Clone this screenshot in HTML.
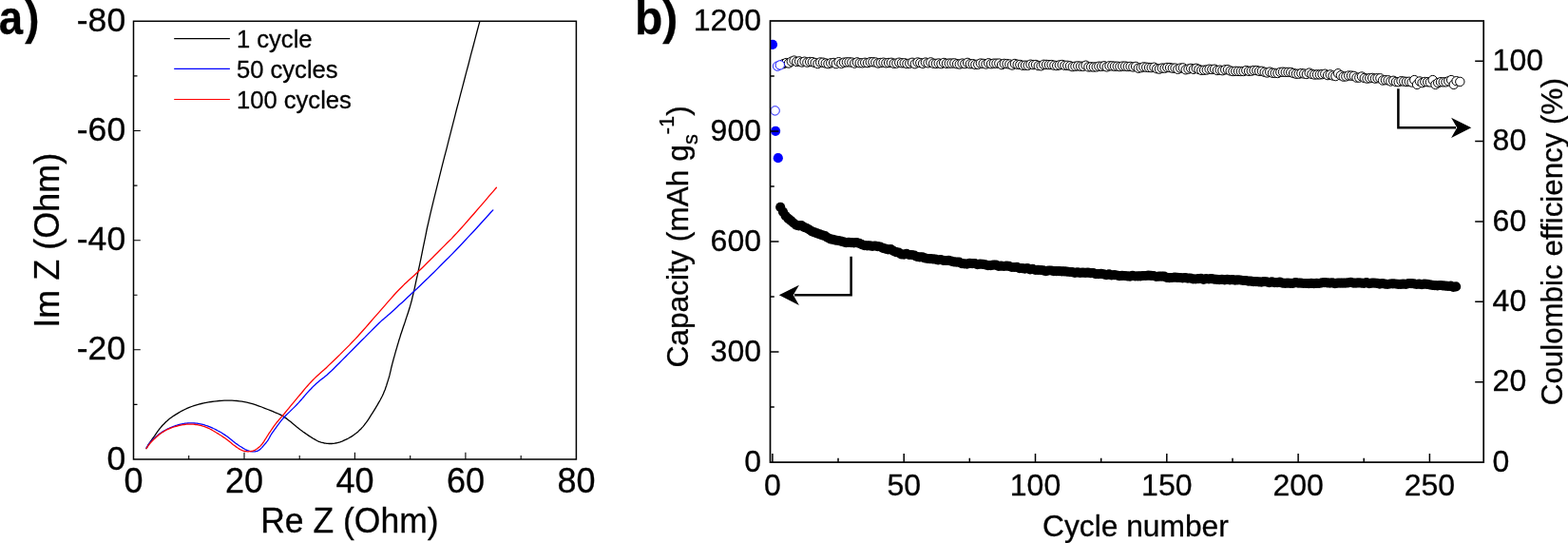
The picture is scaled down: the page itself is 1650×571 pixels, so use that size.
<!DOCTYPE html>
<html lang="en">
<head>
<meta charset="utf-8">
<title>Impedance spectra and cycling performance</title>
<style>
html,body{margin:0;padding:0;background:#fff;}
body{width:1650px;height:571px;overflow:hidden;}
svg{display:block;}
text{font-family:"Liberation Sans", sans-serif;fill:#000;stroke:#000;stroke-width:0.3px;}
.ta{font-size:36px;}
.tal{font-size:35.6px;}
.tb{font-size:32px;}
.lg{font-size:26px;}
.pl{font-size:50px;font-weight:bold;}
.fr{fill:none;stroke:#000;stroke-width:1.5;}
.tk{fill:none;stroke:#000;stroke-width:1.1;}
.tkb{fill:none;stroke:#000;stroke-width:1.5;}
.frb{fill:none;stroke:#000;stroke-width:1.7;}
.ll{fill:none;stroke-width:1.1;}
.cv{fill:none;stroke-width:1.3;stroke-linejoin:round;stroke-linecap:round;}
.oc{fill:#fff;stroke:#000;stroke-width:1;}
.ob{fill:#fff;stroke:#00f;stroke-width:0.9;}
.fc{fill:#000;}
.fb{fill:#00f;}
.ar{fill:none;stroke:#000;stroke-width:2.5;}
</style>
</head>
<body>
<svg width="1650" height="571" viewBox="0 0 1650 571">
<rect x="0" y="0" width="1650" height="571" fill="#fff"/>
<defs>
<clipPath id="ca"><rect x="140.5" y="22.3" width="465.9" height="460.7"/></clipPath>
<clipPath id="cb"><rect x="810.5" y="22.0" width="750.7" height="464.1"/></clipPath>
</defs>

<g id="panel-a">
<text class="pl" transform="translate(-1.2,36) scale(0.91,1)">a<tspan dx="2.4">)</tspan></text>
<g clip-path="url(#ca)">
<path class="cv" stroke="#000" d="M154.0,471.6 L154.2,471.3 L154.4,470.8 L154.6,470.3 L154.9,469.7 L155.3,469.1 L155.6,468.4 L156.1,467.7 L156.5,467.0 L157.0,466.3 L157.5,465.5 L158.0,464.8 L158.6,463.9 L159.2,463.1 L159.9,462.1 L160.6,461.1 L161.5,459.9 L162.5,458.6 L163.5,457.1 L164.7,455.4 L165.9,453.7 L167.1,452.0 L168.4,450.4 L169.7,448.8 L171.0,447.3 L172.3,446.0 L173.5,444.7 L174.7,443.5 L176.0,442.4 L177.3,441.2 L178.8,440.1 L180.3,439.0 L182.0,437.8 L183.8,436.6 L185.8,435.4 L187.9,434.1 L190.1,432.8 L192.3,431.6 L194.6,430.5 L196.9,429.4 L199.3,428.4 L201.7,427.5 L204.1,426.7 L206.7,425.9 L209.2,425.2 L211.8,424.5 L214.4,423.9 L217.1,423.4 L219.7,422.9 L222.4,422.5 L225.1,422.1 L227.8,421.8 L230.6,421.5 L233.3,421.3 L236.1,421.1 L238.8,421.1 L241.5,421.1 L244.1,421.2 L246.7,421.3 L249.3,421.5 L251.9,421.8 L254.5,422.1 L257.1,422.6 L259.8,423.1 L262.6,423.8 L265.6,424.6 L268.8,425.6 L272.0,426.8 L275.4,428.0 L278.6,429.3 L281.7,430.5 L284.6,431.7 L287.1,432.7 L289.2,433.6 L291.1,434.3 L292.7,435.0 L294.1,435.7 L295.5,436.4 L296.8,437.1 L298.3,438.0 L300.0,439.1 L301.9,440.4 L303.8,441.9 L305.9,443.5 L307.9,445.3 L310.0,447.0 L312.0,448.7 L314.0,450.3 L315.8,451.7 L317.6,453.0 L319.2,454.2 L320.9,455.4 L322.5,456.5 L324.1,457.6 L325.6,458.6 L327.0,459.5 L328.4,460.4 L329.7,461.2 L331.0,461.9 L332.2,462.6 L333.3,463.2 L334.4,463.8 L335.5,464.3 L336.6,464.7 L337.8,465.1 L339.0,465.4 L340.2,465.7 L341.4,466.0 L342.7,466.1 L343.9,466.3 L345.0,466.4 L346.2,466.5 L347.3,466.5 L348.3,466.5 L349.3,466.5 L350.3,466.4 L351.2,466.3 L352.2,466.2 L353.1,466.0 L354.0,465.8 L355.0,465.6 L356.0,465.4 L356.9,465.1 L357.9,464.8 L358.9,464.4 L359.9,464.1 L360.9,463.7 L361.9,463.2 L363.0,462.7 L364.1,462.2 L365.3,461.6 L366.5,461.0 L367.7,460.3 L368.9,459.6 L370.1,458.9 L371.3,458.1 L372.5,457.2 L373.7,456.3 L374.9,455.4 L376.1,454.4 L377.3,453.4 L378.4,452.3 L379.6,451.2 L380.8,449.9 L382.0,448.6 L383.2,447.2 L384.3,445.7 L385.5,444.2 L386.6,442.6 L387.8,440.8 L388.9,439.1 L390.1,437.2 L391.4,435.2 L392.7,433.1 L394.1,430.8 L395.6,428.4 L397.1,425.9 L398.5,423.4 L399.9,421.0 L401.2,418.5 L402.4,416.2 L403.4,414.0 L404.3,411.8 L405.2,409.7 L405.9,407.5 L406.7,405.4 L407.3,403.3 L408.0,401.1 L408.7,398.9 L409.4,396.6 L410.0,394.4 L410.5,392.1 L411.1,389.8 L411.6,387.4 L412.2,385.0 L412.8,382.6 L413.5,380.0 L414.2,377.3 L415.0,374.6 L415.8,371.7 L416.6,368.8 L417.5,365.9 L418.3,363.0 L419.2,360.1 L420.0,357.3 L420.9,354.6 L421.7,351.8 L422.6,349.2 L423.5,346.5 L424.4,343.8 L425.3,341.2 L426.2,338.6 L427.0,336.0 L427.8,333.6 L428.6,331.3 L429.3,329.2 L430.0,327.0 L430.7,324.7 L431.5,322.2 L432.3,319.3 L433.2,316.0 L434.1,312.2 L435.1,308.2 L436.1,303.8 L437.1,299.2 L438.1,294.4 L439.3,289.2 L440.4,283.9 L441.6,278.3 L442.8,272.6 L444.0,266.7 L445.2,260.6 L446.5,254.3 L447.9,247.6 L449.3,240.5 L451.0,233.1 L452.8,225.1 L454.9,216.4 L457.2,206.9 L459.7,196.8 L462.3,186.4 L464.9,175.9 L467.5,165.7 L470.1,155.8 L472.4,146.6 L474.6,138.1 L476.7,129.9 L478.7,122.1 L480.6,114.5 L482.6,107.1 L484.5,99.6 L486.5,92.2 L488.5,84.5 L490.6,76.3 L493.0,67.5 L495.3,58.4 L497.7,49.5 L499.9,41.1 L501.9,33.5 L503.6,27.1 L504.9,22.3"/>
<path class="cv" stroke="#00f" d="M154.0,471.2 L154.4,470.6 L154.9,469.9 L155.4,468.9 L156.1,467.9 L156.8,466.8 L157.6,465.7 L158.5,464.6 L159.4,463.6 L160.4,462.6 L161.6,461.5 L162.8,460.4 L164.1,459.3 L165.4,458.2 L166.7,457.1 L168.0,456.1 L169.3,455.2 L170.5,454.4 L171.8,453.6 L173.0,452.9 L174.2,452.2 L175.4,451.5 L176.7,450.9 L177.9,450.4 L179.1,449.8 L180.3,449.3 L181.5,448.8 L182.8,448.3 L184.0,447.9 L185.2,447.4 L186.4,447.1 L187.7,446.7 L188.9,446.4 L190.1,446.1 L191.3,445.8 L192.6,445.6 L193.8,445.4 L195.0,445.2 L196.3,445.1 L197.5,445.0 L198.7,444.9 L199.9,444.9 L201.1,444.8 L202.4,444.9 L203.6,444.9 L204.8,445.0 L206.0,445.1 L207.3,445.2 L208.5,445.4 L209.7,445.6 L210.9,445.8 L212.2,446.1 L213.4,446.4 L214.6,446.7 L215.8,447.1 L217.1,447.5 L218.3,447.9 L219.5,448.3 L220.8,448.8 L222.0,449.3 L223.2,449.9 L224.4,450.5 L225.7,451.0 L226.9,451.7 L228.1,452.3 L229.3,453.0 L230.5,453.6 L231.8,454.3 L233.0,455.0 L234.2,455.8 L235.4,456.6 L236.7,457.4 L237.9,458.2 L239.1,459.1 L240.4,460.1 L241.6,461.1 L242.9,462.1 L244.1,463.1 L245.3,464.1 L246.6,465.1 L247.8,466.0 L249.1,466.9 L250.4,467.8 L251.7,468.7 L253.0,469.5 L254.3,470.3 L255.5,471.1 L256.6,471.7 L257.6,472.3 L258.4,472.8 L259.2,473.1 L259.8,473.4 L260.4,473.7 L260.9,473.8 L261.4,474.0 L261.9,474.1 L262.5,474.3 L263.1,474.5 L263.7,474.6 L264.3,474.7 L264.9,474.8 L265.5,474.9 L266.1,474.9 L266.7,474.9 L267.3,474.9 L267.9,474.8 L268.6,474.8 L269.2,474.7 L269.8,474.6 L270.5,474.4 L271.1,474.1 L271.8,473.8 L272.5,473.4 L273.2,472.9 L274.0,472.2 L274.8,471.4 L275.6,470.6 L276.4,469.7 L277.1,468.9 L277.8,468.1 L278.5,467.3 L279.1,466.6 L279.6,466.0 L280.1,465.3 L280.6,464.7 L281.1,464.1 L281.5,463.5 L282.0,462.8 L282.5,462.0 L283.0,461.2 L283.4,460.5 L283.8,459.7 L284.2,458.9 L284.7,458.0 L285.3,457.0 L286.0,455.9 L286.9,454.6 L288.0,453.1 L289.2,451.4 L290.5,449.6 L291.9,447.6 L293.4,445.6 L294.9,443.6 L296.5,441.7 L298.1,439.8 L299.7,438.0 L301.4,436.3 L303.1,434.6 L304.9,432.9 L306.7,431.1 L308.5,429.4 L310.3,427.6 L312.1,425.8 L313.9,423.9 L315.7,421.8 L317.6,419.7 L319.5,417.5 L321.3,415.4 L323.0,413.4 L324.6,411.6 L326.1,410.0 L327.4,408.7 L328.5,407.5 L329.4,406.6 L330.3,405.8 L331.2,404.9 L332.1,404.1 L333.2,403.1 L334.5,402.0 L335.9,400.8 L337.3,399.6 L338.8,398.4 L340.5,397.2 L342.2,395.8 L344.1,394.2 L346.2,392.3 L348.5,390.2 L351.1,387.7 L354.0,384.8 L357.1,381.7 L360.4,378.4 L363.8,375.0 L367.1,371.6 L370.5,368.2 L373.7,365.0 L376.9,361.7 L380.3,358.3 L383.8,354.9 L387.2,351.4 L390.5,348.1 L393.6,345.0 L396.4,342.2 L398.9,339.8 L400.9,337.9 L402.4,336.5 L403.7,335.4 L404.7,334.6 L405.7,333.7 L406.9,332.8 L408.3,331.6 L410.1,330.0 L412.3,328.0 L414.8,325.7 L417.5,323.2 L420.3,320.6 L423.3,317.9 L426.2,315.2 L429.0,312.6 L431.8,310.0 L434.4,307.6 L436.9,305.3 L439.3,303.0 L441.7,300.7 L444.2,298.3 L446.8,295.8 L449.7,293.1 L452.8,290.0 L456.2,286.7 L459.8,283.1 L463.6,279.3 L467.6,275.3 L471.7,271.3 L475.8,267.1 L480.0,262.8 L484.1,258.5 L488.5,253.8 L493.3,248.6 L498.4,243.2 L503.4,237.7 L508.2,232.5 L512.5,227.8 L516.1,223.8 L518.8,220.9"/>
<path class="cv" stroke="#f00" d="M154.0,471.6 L154.4,471.1 L154.9,470.4 L155.4,469.5 L156.1,468.6 L156.8,467.6 L157.6,466.6 L158.5,465.5 L159.4,464.5 L160.4,463.5 L161.6,462.3 L162.8,461.2 L164.1,460.0 L165.4,458.8 L166.7,457.7 L168.0,456.6 L169.3,455.7 L170.5,454.8 L171.8,454.1 L173.0,453.3 L174.2,452.6 L175.4,452.0 L176.7,451.4 L177.9,450.8 L179.1,450.3 L180.3,449.8 L181.5,449.4 L182.8,449.0 L184.0,448.6 L185.2,448.3 L186.4,448.0 L187.7,447.7 L188.9,447.4 L190.1,447.1 L191.3,446.9 L192.6,446.7 L193.8,446.5 L195.0,446.4 L196.3,446.2 L197.5,446.2 L198.7,446.1 L199.9,446.1 L201.1,446.1 L202.4,446.2 L203.6,446.2 L204.8,446.4 L206.0,446.5 L207.3,446.7 L208.5,446.9 L209.7,447.1 L210.9,447.4 L212.2,447.7 L213.4,448.1 L214.6,448.4 L215.8,448.8 L217.1,449.3 L218.3,449.8 L219.5,450.3 L220.8,451.0 L222.0,451.6 L223.2,452.3 L224.4,453.0 L225.7,453.7 L226.9,454.5 L228.1,455.2 L229.3,455.9 L230.5,456.7 L231.8,457.5 L233.0,458.2 L234.2,459.1 L235.4,459.9 L236.7,460.7 L237.9,461.6 L239.2,462.5 L240.4,463.5 L241.7,464.6 L243.0,465.6 L244.3,466.7 L245.5,467.7 L246.7,468.6 L247.8,469.4 L248.8,470.1 L249.7,470.8 L250.6,471.3 L251.4,471.9 L252.2,472.3 L253.0,472.8 L253.8,473.1 L254.6,473.5 L255.4,473.8 L256.2,474.1 L257.0,474.3 L257.8,474.5 L258.6,474.6 L259.4,474.7 L260.2,474.8 L261.0,474.8 L261.8,474.8 L262.6,474.7 L263.4,474.6 L264.3,474.5 L265.1,474.3 L265.9,474.1 L266.6,473.9 L267.4,473.6 L268.1,473.3 L268.9,472.9 L269.6,472.5 L270.3,472.0 L271.0,471.6 L271.6,471.1 L272.3,470.5 L272.9,470.0 L273.5,469.5 L274.1,468.9 L274.6,468.3 L275.1,467.7 L275.7,467.0 L276.2,466.4 L276.7,465.7 L277.2,465.0 L277.7,464.3 L278.1,463.6 L278.5,462.9 L279.0,462.2 L279.4,461.5 L280.0,460.6 L280.6,459.6 L281.3,458.5 L282.2,457.2 L283.1,455.7 L284.2,454.2 L285.3,452.5 L286.4,450.8 L287.6,449.1 L288.8,447.4 L290.0,445.8 L291.1,444.3 L292.3,443.0 L293.4,441.6 L294.6,440.3 L295.8,438.9 L297.1,437.4 L298.5,435.8 L300.0,434.0 L301.7,431.9 L303.6,429.7 L305.6,427.2 L307.7,424.7 L309.8,422.1 L311.9,419.6 L313.9,417.2 L315.8,415.0 L317.5,413.0 L319.1,411.0 L320.6,409.2 L322.1,407.4 L323.6,405.7 L325.2,403.9 L327.0,402.0 L328.9,400.0 L331.0,397.9 L333.2,395.8 L335.5,393.7 L337.9,391.5 L340.5,389.3 L343.1,386.9 L345.7,384.4 L348.5,381.8 L351.4,379.0 L354.5,376.0 L357.7,372.9 L360.9,369.6 L364.2,366.4 L367.5,363.1 L370.6,359.8 L373.7,356.6 L376.6,353.5 L379.5,350.3 L382.2,347.2 L385.0,344.1 L387.7,341.0 L390.5,337.8 L393.2,334.6 L396.1,331.4 L399.0,328.1 L402.0,324.6 L405.1,321.1 L408.1,317.6 L411.2,314.1 L414.2,310.8 L417.1,307.5 L420.0,304.5 L422.8,301.7 L425.4,299.1 L428.0,296.7 L430.6,294.3 L433.2,292.0 L435.7,289.7 L438.3,287.3 L441.0,284.8 L443.7,282.2 L446.5,279.5 L449.2,276.8 L452.0,274.0 L454.8,271.3 L457.5,268.5 L460.3,265.7 L463.0,263.0 L465.6,260.4 L467.9,258.1 L470.2,255.8 L472.5,253.5 L475.0,251.1 L477.6,248.3 L480.6,245.1 L484.1,241.3 L488.3,236.6 L493.4,230.8 L498.9,224.5 L504.6,217.9 L510.1,211.6 L515.1,205.7 L519.3,200.8 L522.4,197.3"/>
</g>
<rect class="fr" x="140.5" y="22.3" width="465.9" height="460.7"/>
<path class="tk" d="M198.7,483.0 v-4 M140.5,425.4 h4 M257.0,483.0 v-7.3 M140.5,367.8 h7.3 M315.2,483.0 v-4 M140.5,310.2 h4 M373.4,483.0 v-7.3 M140.5,252.7 h7.3 M431.7,483.0 v-4 M140.5,195.1 h4 M489.9,483.0 v-7.3 M140.5,137.5 h7.3 M548.2,483.0 v-4 M140.5,79.9 h4 "/>
<text class="tal" text-anchor="end" x="132.2" y="493.6">0</text>
<text class="ta" text-anchor="middle" x="140.5" y="518.2">0</text>
<text class="tal" text-anchor="end" x="132.2" y="378.4">-20</text>
<text class="ta" text-anchor="middle" x="257.0" y="518.2">20</text>
<text class="tal" text-anchor="end" x="132.2" y="263.2">-40</text>
<text class="ta" text-anchor="middle" x="373.4" y="518.2">40</text>
<text class="tal" text-anchor="end" x="132.2" y="148.1">-60</text>
<text class="ta" text-anchor="middle" x="489.9" y="518.2">60</text>
<text class="tal" text-anchor="end" x="132.2" y="32.9">-80</text>
<text class="ta" text-anchor="middle" x="606.4" y="518.2">80</text>
<text class="ta" text-anchor="middle" transform="translate(367.9,560.3) scale(0.987,1)">Re Z (Ohm)</text>
<text class="ta" text-anchor="middle" transform="translate(62.3,252.7) rotate(-90)">Im Z (Ohm)</text>
<path class="ll" stroke="#000" d="M183.2,40.6 H241.9"/>
<text class="lg" transform="translate(248.9,49.9) scale(0.985,1)">1 cycle</text>
<path class="ll" stroke="#00f" d="M183.2,72.4 H241.9"/>
<text class="lg" transform="translate(248.9,81.8) scale(0.985,1)">50 cycles</text>
<path class="ll" stroke="#f00" d="M183.2,104.5 H241.9"/>
<text class="lg" transform="translate(248.9,114.0) scale(0.985,1)">100 cycles</text>
</g>
<g id="panel-b">
<text class="pl" transform="translate(668,36.3) scale(0.96,1)">b)</text>
<g clip-path="url(#cb)">
<g class="oc"><circle cx="824.5" cy="67.1" r="4.7"/><circle cx="827.3" cy="66.1" r="4.7"/><circle cx="830.0" cy="66.5" r="4.7"/><circle cx="832.8" cy="64.7" r="4.7"/><circle cx="835.6" cy="63.6" r="4.7"/><circle cx="838.3" cy="64.9" r="4.7"/><circle cx="841.1" cy="64.4" r="4.7"/><circle cx="843.9" cy="65.5" r="4.7"/><circle cx="846.6" cy="64.7" r="4.7"/><circle cx="849.4" cy="65.6" r="4.7"/><circle cx="852.2" cy="65.0" r="4.7"/><circle cx="854.9" cy="65.2" r="4.7"/><circle cx="857.7" cy="66.0" r="4.7"/><circle cx="860.5" cy="67.0" r="4.7"/><circle cx="863.2" cy="65.5" r="4.7"/><circle cx="866.0" cy="65.7" r="4.7"/><circle cx="868.8" cy="66.5" r="4.7"/><circle cx="871.5" cy="67.1" r="4.7"/><circle cx="874.3" cy="66.3" r="4.7"/><circle cx="877.1" cy="66.0" r="4.7"/><circle cx="879.8" cy="67.1" r="4.7"/><circle cx="882.6" cy="65.2" r="4.7"/><circle cx="885.4" cy="66.8" r="4.7"/><circle cx="888.1" cy="65.7" r="4.7"/><circle cx="890.9" cy="65.4" r="4.7"/><circle cx="893.6" cy="65.3" r="4.7"/><circle cx="896.4" cy="65.6" r="4.7"/><circle cx="899.2" cy="66.6" r="4.7"/><circle cx="901.9" cy="65.4" r="4.7"/><circle cx="904.7" cy="66.2" r="4.7"/><circle cx="907.5" cy="66.3" r="4.7"/><circle cx="910.2" cy="65.8" r="4.7"/><circle cx="913.0" cy="66.1" r="4.7"/><circle cx="915.8" cy="65.2" r="4.7"/><circle cx="918.5" cy="65.2" r="4.7"/><circle cx="921.3" cy="65.5" r="4.7"/><circle cx="924.1" cy="66.5" r="4.7"/><circle cx="926.8" cy="66.0" r="4.7"/><circle cx="929.6" cy="65.7" r="4.7"/><circle cx="932.4" cy="66.3" r="4.7"/><circle cx="935.1" cy="66.0" r="4.7"/><circle cx="937.9" cy="65.8" r="4.7"/><circle cx="940.7" cy="66.8" r="4.7"/><circle cx="943.4" cy="66.6" r="4.7"/><circle cx="946.2" cy="65.7" r="4.7"/><circle cx="949.0" cy="66.3" r="4.7"/><circle cx="951.7" cy="66.3" r="4.7"/><circle cx="954.5" cy="67.0" r="4.7"/><circle cx="957.3" cy="66.7" r="4.7"/><circle cx="960.0" cy="65.8" r="4.7"/><circle cx="962.8" cy="67.2" r="4.7"/><circle cx="965.6" cy="65.5" r="4.7"/><circle cx="968.3" cy="66.1" r="4.7"/><circle cx="971.1" cy="66.8" r="4.7"/><circle cx="973.9" cy="65.6" r="4.7"/><circle cx="976.6" cy="66.3" r="4.7"/><circle cx="979.4" cy="65.4" r="4.7"/><circle cx="982.2" cy="66.7" r="4.7"/><circle cx="984.9" cy="66.9" r="4.7"/><circle cx="987.7" cy="66.5" r="4.7"/><circle cx="990.5" cy="67.1" r="4.7"/><circle cx="993.2" cy="66.0" r="4.7"/><circle cx="996.0" cy="66.8" r="4.7"/><circle cx="998.8" cy="66.6" r="4.7"/><circle cx="1001.5" cy="66.6" r="4.7"/><circle cx="1004.3" cy="66.4" r="4.7"/><circle cx="1007.1" cy="67.2" r="4.7"/><circle cx="1009.8" cy="67.5" r="4.7"/><circle cx="1012.6" cy="66.6" r="4.7"/><circle cx="1015.4" cy="67.1" r="4.7"/><circle cx="1018.1" cy="65.9" r="4.7"/><circle cx="1020.9" cy="67.2" r="4.7"/><circle cx="1023.7" cy="67.2" r="4.7"/><circle cx="1026.4" cy="67.9" r="4.7"/><circle cx="1029.2" cy="67.7" r="4.7"/><circle cx="1031.9" cy="66.6" r="4.7"/><circle cx="1034.7" cy="66.9" r="4.7"/><circle cx="1037.5" cy="67.5" r="4.7"/><circle cx="1040.2" cy="66.3" r="4.7"/><circle cx="1043.0" cy="67.2" r="4.7"/><circle cx="1045.8" cy="66.7" r="4.7"/><circle cx="1048.5" cy="66.7" r="4.7"/><circle cx="1051.3" cy="66.6" r="4.7"/><circle cx="1054.1" cy="68.1" r="4.7"/><circle cx="1056.8" cy="66.9" r="4.7"/><circle cx="1059.6" cy="67.1" r="4.7"/><circle cx="1062.4" cy="67.5" r="4.7"/><circle cx="1065.1" cy="68.5" r="4.7"/><circle cx="1067.9" cy="67.0" r="4.7"/><circle cx="1070.7" cy="67.8" r="4.7"/><circle cx="1073.4" cy="68.0" r="4.7"/><circle cx="1076.2" cy="68.8" r="4.7"/><circle cx="1079.0" cy="68.7" r="4.7"/><circle cx="1081.7" cy="68.8" r="4.7"/><circle cx="1084.5" cy="67.7" r="4.7"/><circle cx="1087.3" cy="68.1" r="4.7"/><circle cx="1090.0" cy="68.0" r="4.7"/><circle cx="1092.8" cy="69.1" r="4.7"/><circle cx="1095.6" cy="69.3" r="4.7"/><circle cx="1098.3" cy="67.8" r="4.7"/><circle cx="1101.1" cy="67.9" r="4.7"/><circle cx="1103.9" cy="68.1" r="4.7"/><circle cx="1106.6" cy="68.1" r="4.7"/><circle cx="1109.4" cy="68.7" r="4.7"/><circle cx="1112.2" cy="69.0" r="4.7"/><circle cx="1114.9" cy="68.4" r="4.7"/><circle cx="1117.7" cy="68.0" r="4.7"/><circle cx="1120.5" cy="68.8" r="4.7"/><circle cx="1123.2" cy="68.8" r="4.7"/><circle cx="1126.0" cy="69.3" r="4.7"/><circle cx="1128.8" cy="70.1" r="4.7"/><circle cx="1131.5" cy="69.7" r="4.7"/><circle cx="1134.3" cy="69.4" r="4.7"/><circle cx="1137.1" cy="69.7" r="4.7"/><circle cx="1139.8" cy="69.8" r="4.7"/><circle cx="1142.6" cy="68.7" r="4.7"/><circle cx="1145.4" cy="70.4" r="4.7"/><circle cx="1148.1" cy="70.3" r="4.7"/><circle cx="1150.9" cy="70.5" r="4.7"/><circle cx="1153.7" cy="70.4" r="4.7"/><circle cx="1156.4" cy="69.7" r="4.7"/><circle cx="1159.2" cy="69.8" r="4.7"/><circle cx="1162.0" cy="69.3" r="4.7"/><circle cx="1164.7" cy="70.4" r="4.7"/><circle cx="1167.5" cy="69.3" r="4.7"/><circle cx="1170.3" cy="69.4" r="4.7"/><circle cx="1173.0" cy="69.7" r="4.7"/><circle cx="1175.8" cy="69.7" r="4.7"/><circle cx="1178.5" cy="70.1" r="4.7"/><circle cx="1181.3" cy="69.6" r="4.7"/><circle cx="1184.1" cy="69.6" r="4.7"/><circle cx="1186.8" cy="70.0" r="4.7"/><circle cx="1189.6" cy="69.9" r="4.7"/><circle cx="1192.4" cy="70.5" r="4.7"/><circle cx="1195.1" cy="69.9" r="4.7"/><circle cx="1197.9" cy="71.7" r="4.7"/><circle cx="1200.7" cy="71.2" r="4.7"/><circle cx="1203.4" cy="70.4" r="4.7"/><circle cx="1206.2" cy="70.7" r="4.7"/><circle cx="1209.0" cy="71.0" r="4.7"/><circle cx="1211.7" cy="71.1" r="4.7"/><circle cx="1214.5" cy="70.7" r="4.7"/><circle cx="1217.3" cy="72.2" r="4.7"/><circle cx="1220.0" cy="72.6" r="4.7"/><circle cx="1222.8" cy="71.6" r="4.7"/><circle cx="1225.6" cy="71.7" r="4.7"/><circle cx="1228.3" cy="71.0" r="4.7"/><circle cx="1231.1" cy="71.1" r="4.7"/><circle cx="1233.9" cy="71.7" r="4.7"/><circle cx="1236.6" cy="71.6" r="4.7"/><circle cx="1239.4" cy="72.8" r="4.7"/><circle cx="1242.2" cy="71.6" r="4.7"/><circle cx="1244.9" cy="71.4" r="4.7"/><circle cx="1247.7" cy="73.3" r="4.7"/><circle cx="1250.5" cy="72.6" r="4.7"/><circle cx="1253.2" cy="71.9" r="4.7"/><circle cx="1256.0" cy="72.8" r="4.7"/><circle cx="1258.8" cy="71.8" r="4.7"/><circle cx="1261.5" cy="72.9" r="4.7"/><circle cx="1264.3" cy="73.9" r="4.7"/><circle cx="1267.1" cy="73.7" r="4.7"/><circle cx="1269.8" cy="73.5" r="4.7"/><circle cx="1272.6" cy="72.7" r="4.7"/><circle cx="1275.4" cy="73.0" r="4.7"/><circle cx="1278.1" cy="72.7" r="4.7"/><circle cx="1280.9" cy="74.0" r="4.7"/><circle cx="1283.7" cy="73.6" r="4.7"/><circle cx="1286.4" cy="74.2" r="4.7"/><circle cx="1289.2" cy="73.3" r="4.7"/><circle cx="1292.0" cy="73.2" r="4.7"/><circle cx="1294.7" cy="74.5" r="4.7"/><circle cx="1297.5" cy="75.0" r="4.7"/><circle cx="1300.3" cy="74.8" r="4.7"/><circle cx="1303.0" cy="74.9" r="4.7"/><circle cx="1305.8" cy="75.0" r="4.7"/><circle cx="1308.6" cy="75.0" r="4.7"/><circle cx="1311.3" cy="74.1" r="4.7"/><circle cx="1314.1" cy="74.8" r="4.7"/><circle cx="1316.8" cy="74.6" r="4.7"/><circle cx="1319.6" cy="74.0" r="4.7"/><circle cx="1322.4" cy="74.1" r="4.7"/><circle cx="1325.1" cy="74.8" r="4.7"/><circle cx="1327.9" cy="74.8" r="4.7"/><circle cx="1330.7" cy="75.8" r="4.7"/><circle cx="1333.4" cy="76.5" r="4.7"/><circle cx="1336.2" cy="75.6" r="4.7"/><circle cx="1339.0" cy="76.7" r="4.7"/><circle cx="1341.7" cy="76.9" r="4.7"/><circle cx="1344.5" cy="77.0" r="4.7"/><circle cx="1347.3" cy="75.9" r="4.7"/><circle cx="1350.0" cy="75.7" r="4.7"/><circle cx="1352.8" cy="75.9" r="4.7"/><circle cx="1355.6" cy="75.9" r="4.7"/><circle cx="1358.3" cy="76.0" r="4.7"/><circle cx="1361.1" cy="77.0" r="4.7"/><circle cx="1363.9" cy="77.7" r="4.7"/><circle cx="1366.6" cy="77.7" r="4.7"/><circle cx="1369.4" cy="77.1" r="4.7"/><circle cx="1372.2" cy="77.5" r="4.7"/><circle cx="1374.9" cy="78.0" r="4.7"/><circle cx="1377.7" cy="76.6" r="4.7"/><circle cx="1380.5" cy="77.9" r="4.7"/><circle cx="1383.2" cy="78.5" r="4.7"/><circle cx="1386.0" cy="78.4" r="4.7"/><circle cx="1388.8" cy="78.4" r="4.7"/><circle cx="1391.5" cy="78.1" r="4.7"/><circle cx="1394.3" cy="77.7" r="4.7"/><circle cx="1397.1" cy="79.1" r="4.7"/><circle cx="1399.8" cy="78.4" r="4.7"/><circle cx="1402.6" cy="79.5" r="4.7"/><circle cx="1405.4" cy="80.1" r="4.7"/><circle cx="1408.1" cy="77.2" r="4.7"/><circle cx="1410.9" cy="79.3" r="4.7"/><circle cx="1413.7" cy="80.6" r="4.7"/><circle cx="1416.4" cy="80.4" r="4.7"/><circle cx="1419.2" cy="79.5" r="4.7"/><circle cx="1422.0" cy="79.6" r="4.7"/><circle cx="1424.7" cy="79.9" r="4.7"/><circle cx="1427.5" cy="81.6" r="4.7"/><circle cx="1430.3" cy="81.6" r="4.7"/><circle cx="1433.0" cy="80.5" r="4.7"/><circle cx="1435.8" cy="82.0" r="4.7"/><circle cx="1438.6" cy="82.6" r="4.7"/><circle cx="1441.3" cy="82.2" r="4.7"/><circle cx="1444.1" cy="81.9" r="4.7"/><circle cx="1446.9" cy="82.6" r="4.7"/><circle cx="1449.6" cy="82.2" r="4.7"/><circle cx="1452.4" cy="82.3" r="4.7"/><circle cx="1455.1" cy="84.5" r="4.7"/><circle cx="1457.9" cy="84.2" r="4.7"/><circle cx="1460.7" cy="84.3" r="4.7"/><circle cx="1463.4" cy="85.5" r="4.7"/><circle cx="1466.2" cy="84.8" r="4.7"/><circle cx="1469.0" cy="86.0" r="4.7"/><circle cx="1471.7" cy="86.2" r="4.7"/><circle cx="1474.5" cy="85.2" r="4.7"/><circle cx="1477.3" cy="85.6" r="4.7"/><circle cx="1480.0" cy="85.9" r="4.7"/><circle cx="1482.8" cy="85.8" r="4.7"/><circle cx="1485.6" cy="86.5" r="4.7"/><circle cx="1488.3" cy="84.1" r="4.7"/><circle cx="1491.1" cy="88.9" r="4.7"/><circle cx="1493.9" cy="85.5" r="4.7"/><circle cx="1496.6" cy="87.1" r="4.7"/><circle cx="1499.4" cy="86.0" r="4.7"/><circle cx="1502.2" cy="86.2" r="4.7"/><circle cx="1504.9" cy="86.4" r="4.7"/><circle cx="1507.7" cy="84.1" r="4.7"/><circle cx="1510.5" cy="88.9" r="4.7"/><circle cx="1513.2" cy="87.1" r="4.7"/><circle cx="1516.0" cy="86.2" r="4.7"/><circle cx="1518.8" cy="86.3" r="4.7"/><circle cx="1521.5" cy="86.3" r="4.7"/><circle cx="1524.3" cy="85.3" r="4.7"/><circle cx="1527.1" cy="84.1" r="4.7"/><circle cx="1529.8" cy="88.9" r="4.7"/><circle cx="1532.6" cy="85.2" r="4.7"/><circle cx="1536.3" cy="85.9" r="4.7"/></g>
<g class="ob"><circle cx="815.6" cy="116.4" r="4.7"/><circle cx="818.1" cy="69.6" r="4.7"/><circle cx="820.8" cy="68.4" r="4.7"/></g>
<g class="fc"><circle cx="821.2" cy="217.8" r="5.1"/><circle cx="824.0" cy="222.8" r="5.1"/><circle cx="826.7" cy="227.0" r="5.1"/><circle cx="829.5" cy="229.9" r="5.1"/><circle cx="832.3" cy="232.2" r="5.1"/><circle cx="835.0" cy="234.5" r="5.1"/><circle cx="837.8" cy="236.6" r="5.1"/><circle cx="840.6" cy="237.4" r="5.1"/><circle cx="843.3" cy="237.0" r="5.1"/><circle cx="846.1" cy="238.9" r="5.1"/><circle cx="848.9" cy="240.0" r="5.1"/><circle cx="851.6" cy="241.5" r="5.1"/><circle cx="854.4" cy="243.4" r="5.1"/><circle cx="857.2" cy="244.3" r="5.1"/><circle cx="859.9" cy="245.4" r="5.1"/><circle cx="862.7" cy="246.4" r="5.1"/><circle cx="865.5" cy="247.3" r="5.1"/><circle cx="868.2" cy="248.2" r="5.1"/><circle cx="871.0" cy="250.0" r="5.1"/><circle cx="873.8" cy="251.3" r="5.1"/><circle cx="876.5" cy="251.8" r="5.1"/><circle cx="879.3" cy="252.6" r="5.1"/><circle cx="882.1" cy="253.0" r="5.1"/><circle cx="884.8" cy="253.7" r="5.1"/><circle cx="887.6" cy="254.4" r="5.1"/><circle cx="890.3" cy="255.1" r="5.1"/><circle cx="893.1" cy="254.8" r="5.1"/><circle cx="895.9" cy="255.1" r="5.1"/><circle cx="898.6" cy="255.4" r="5.1"/><circle cx="901.4" cy="255.1" r="5.1"/><circle cx="904.2" cy="255.9" r="5.1"/><circle cx="906.9" cy="257.2" r="5.1"/><circle cx="909.7" cy="258.2" r="5.1"/><circle cx="912.5" cy="258.4" r="5.1"/><circle cx="915.2" cy="258.4" r="5.1"/><circle cx="918.0" cy="258.9" r="5.1"/><circle cx="920.8" cy="258.5" r="5.1"/><circle cx="923.5" cy="259.1" r="5.1"/><circle cx="926.3" cy="259.5" r="5.1"/><circle cx="929.1" cy="260.8" r="5.1"/><circle cx="931.8" cy="261.6" r="5.1"/><circle cx="934.6" cy="262.4" r="5.1"/><circle cx="937.4" cy="262.2" r="5.1"/><circle cx="940.1" cy="263.8" r="5.1"/><circle cx="942.9" cy="265.1" r="5.1"/><circle cx="945.7" cy="265.7" r="5.1"/><circle cx="948.4" cy="267.4" r="5.1"/><circle cx="951.2" cy="267.6" r="5.1"/><circle cx="954.0" cy="266.8" r="5.1"/><circle cx="956.7" cy="268.0" r="5.1"/><circle cx="959.5" cy="268.0" r="5.1"/><circle cx="962.3" cy="268.7" r="5.1"/><circle cx="965.0" cy="270.0" r="5.1"/><circle cx="967.8" cy="270.4" r="5.1"/><circle cx="970.6" cy="270.3" r="5.1"/><circle cx="973.3" cy="271.3" r="5.1"/><circle cx="976.1" cy="272.0" r="5.1"/><circle cx="978.9" cy="272.2" r="5.1"/><circle cx="981.6" cy="272.3" r="5.1"/><circle cx="984.4" cy="272.7" r="5.1"/><circle cx="987.2" cy="273.5" r="5.1"/><circle cx="989.9" cy="273.0" r="5.1"/><circle cx="992.7" cy="273.9" r="5.1"/><circle cx="995.5" cy="274.0" r="5.1"/><circle cx="998.2" cy="273.8" r="5.1"/><circle cx="1001.0" cy="274.6" r="5.1"/><circle cx="1003.8" cy="275.4" r="5.1"/><circle cx="1006.5" cy="275.7" r="5.1"/><circle cx="1009.3" cy="275.6" r="5.1"/><circle cx="1012.1" cy="277.2" r="5.1"/><circle cx="1014.8" cy="277.3" r="5.1"/><circle cx="1017.6" cy="277.7" r="5.1"/><circle cx="1020.4" cy="276.8" r="5.1"/><circle cx="1023.1" cy="277.2" r="5.1"/><circle cx="1025.9" cy="277.1" r="5.1"/><circle cx="1028.6" cy="278.2" r="5.1"/><circle cx="1031.4" cy="277.7" r="5.1"/><circle cx="1034.2" cy="277.8" r="5.1"/><circle cx="1036.9" cy="278.3" r="5.1"/><circle cx="1039.7" cy="279.1" r="5.1"/><circle cx="1042.5" cy="279.1" r="5.1"/><circle cx="1045.2" cy="278.7" r="5.1"/><circle cx="1048.0" cy="278.7" r="5.1"/><circle cx="1050.8" cy="279.8" r="5.1"/><circle cx="1053.5" cy="279.6" r="5.1"/><circle cx="1056.3" cy="280.0" r="5.1"/><circle cx="1059.1" cy="279.6" r="5.1"/><circle cx="1061.8" cy="279.9" r="5.1"/><circle cx="1064.6" cy="281.0" r="5.1"/><circle cx="1067.4" cy="281.0" r="5.1"/><circle cx="1070.1" cy="280.9" r="5.1"/><circle cx="1072.9" cy="282.2" r="5.1"/><circle cx="1075.7" cy="282.2" r="5.1"/><circle cx="1078.4" cy="282.7" r="5.1"/><circle cx="1081.2" cy="282.1" r="5.1"/><circle cx="1084.0" cy="283.4" r="5.1"/><circle cx="1086.7" cy="282.8" r="5.1"/><circle cx="1089.5" cy="284.0" r="5.1"/><circle cx="1092.3" cy="283.8" r="5.1"/><circle cx="1095.0" cy="284.0" r="5.1"/><circle cx="1097.8" cy="284.4" r="5.1"/><circle cx="1100.6" cy="285.1" r="5.1"/><circle cx="1103.3" cy="284.5" r="5.1"/><circle cx="1106.1" cy="284.5" r="5.1"/><circle cx="1108.9" cy="285.2" r="5.1"/><circle cx="1111.6" cy="285.1" r="5.1"/><circle cx="1114.4" cy="285.1" r="5.1"/><circle cx="1117.2" cy="285.3" r="5.1"/><circle cx="1119.9" cy="285.4" r="5.1"/><circle cx="1122.7" cy="285.7" r="5.1"/><circle cx="1125.5" cy="286.0" r="5.1"/><circle cx="1128.2" cy="286.1" r="5.1"/><circle cx="1131.0" cy="286.8" r="5.1"/><circle cx="1133.8" cy="286.4" r="5.1"/><circle cx="1136.5" cy="286.8" r="5.1"/><circle cx="1139.3" cy="286.6" r="5.1"/><circle cx="1142.1" cy="286.9" r="5.1"/><circle cx="1144.8" cy="286.7" r="5.1"/><circle cx="1147.6" cy="287.2" r="5.1"/><circle cx="1150.4" cy="287.1" r="5.1"/><circle cx="1153.1" cy="288.1" r="5.1"/><circle cx="1155.9" cy="288.1" r="5.1"/><circle cx="1158.7" cy="287.9" r="5.1"/><circle cx="1161.4" cy="288.4" r="5.1"/><circle cx="1164.2" cy="289.2" r="5.1"/><circle cx="1167.0" cy="288.4" r="5.1"/><circle cx="1169.7" cy="289.5" r="5.1"/><circle cx="1172.5" cy="289.2" r="5.1"/><circle cx="1175.2" cy="289.5" r="5.1"/><circle cx="1178.0" cy="290.1" r="5.1"/><circle cx="1180.8" cy="289.8" r="5.1"/><circle cx="1183.5" cy="290.0" r="5.1"/><circle cx="1186.3" cy="290.3" r="5.1"/><circle cx="1189.1" cy="290.6" r="5.1"/><circle cx="1191.8" cy="289.9" r="5.1"/><circle cx="1194.6" cy="290.5" r="5.1"/><circle cx="1197.4" cy="290.4" r="5.1"/><circle cx="1200.1" cy="290.3" r="5.1"/><circle cx="1202.9" cy="290.0" r="5.1"/><circle cx="1205.7" cy="290.0" r="5.1"/><circle cx="1208.4" cy="289.7" r="5.1"/><circle cx="1211.2" cy="289.8" r="5.1"/><circle cx="1214.0" cy="290.0" r="5.1"/><circle cx="1216.7" cy="291.0" r="5.1"/><circle cx="1219.5" cy="290.6" r="5.1"/><circle cx="1222.3" cy="290.6" r="5.1"/><circle cx="1225.0" cy="290.7" r="5.1"/><circle cx="1227.8" cy="291.8" r="5.1"/><circle cx="1230.6" cy="292.1" r="5.1"/><circle cx="1233.3" cy="292.0" r="5.1"/><circle cx="1236.1" cy="291.7" r="5.1"/><circle cx="1238.9" cy="291.8" r="5.1"/><circle cx="1241.6" cy="292.0" r="5.1"/><circle cx="1244.4" cy="292.3" r="5.1"/><circle cx="1247.2" cy="292.1" r="5.1"/><circle cx="1249.9" cy="292.6" r="5.1"/><circle cx="1252.7" cy="292.5" r="5.1"/><circle cx="1255.5" cy="293.4" r="5.1"/><circle cx="1258.2" cy="293.5" r="5.1"/><circle cx="1261.0" cy="293.2" r="5.1"/><circle cx="1263.8" cy="292.9" r="5.1"/><circle cx="1266.5" cy="293.9" r="5.1"/><circle cx="1269.3" cy="293.2" r="5.1"/><circle cx="1272.1" cy="293.4" r="5.1"/><circle cx="1274.8" cy="293.1" r="5.1"/><circle cx="1277.6" cy="293.7" r="5.1"/><circle cx="1280.4" cy="293.9" r="5.1"/><circle cx="1283.1" cy="294.1" r="5.1"/><circle cx="1285.9" cy="293.8" r="5.1"/><circle cx="1288.7" cy="294.3" r="5.1"/><circle cx="1291.4" cy="293.8" r="5.1"/><circle cx="1294.2" cy="294.3" r="5.1"/><circle cx="1297.0" cy="294.2" r="5.1"/><circle cx="1299.7" cy="294.7" r="5.1"/><circle cx="1302.5" cy="294.4" r="5.1"/><circle cx="1305.3" cy="294.5" r="5.1"/><circle cx="1308.0" cy="295.0" r="5.1"/><circle cx="1310.8" cy="295.0" r="5.1"/><circle cx="1313.5" cy="295.6" r="5.1"/><circle cx="1316.3" cy="295.7" r="5.1"/><circle cx="1319.1" cy="296.1" r="5.1"/><circle cx="1321.8" cy="296.1" r="5.1"/><circle cx="1324.6" cy="296.3" r="5.1"/><circle cx="1327.4" cy="296.6" r="5.1"/><circle cx="1330.1" cy="296.2" r="5.1"/><circle cx="1332.9" cy="296.3" r="5.1"/><circle cx="1335.7" cy="297.2" r="5.1"/><circle cx="1338.4" cy="296.3" r="5.1"/><circle cx="1341.2" cy="297.2" r="5.1"/><circle cx="1344.0" cy="297.2" r="5.1"/><circle cx="1346.7" cy="296.6" r="5.1"/><circle cx="1349.5" cy="297.7" r="5.1"/><circle cx="1352.3" cy="297.9" r="5.1"/><circle cx="1355.0" cy="297.7" r="5.1"/><circle cx="1357.8" cy="297.8" r="5.1"/><circle cx="1360.6" cy="297.9" r="5.1"/><circle cx="1363.3" cy="297.1" r="5.1"/><circle cx="1366.1" cy="297.6" r="5.1"/><circle cx="1368.9" cy="297.6" r="5.1"/><circle cx="1371.6" cy="298.0" r="5.1"/><circle cx="1374.4" cy="298.0" r="5.1"/><circle cx="1377.2" cy="298.1" r="5.1"/><circle cx="1379.9" cy="297.8" r="5.1"/><circle cx="1382.7" cy="298.2" r="5.1"/><circle cx="1385.5" cy="297.9" r="5.1"/><circle cx="1388.2" cy="298.0" r="5.1"/><circle cx="1391.0" cy="297.4" r="5.1"/><circle cx="1393.8" cy="297.2" r="5.1"/><circle cx="1396.5" cy="297.3" r="5.1"/><circle cx="1399.3" cy="297.6" r="5.1"/><circle cx="1402.1" cy="297.3" r="5.1"/><circle cx="1404.8" cy="298.1" r="5.1"/><circle cx="1407.6" cy="297.7" r="5.1"/><circle cx="1410.4" cy="297.7" r="5.1"/><circle cx="1413.1" cy="297.7" r="5.1"/><circle cx="1415.9" cy="297.7" r="5.1"/><circle cx="1418.7" cy="297.4" r="5.1"/><circle cx="1421.4" cy="296.8" r="5.1"/><circle cx="1424.2" cy="297.7" r="5.1"/><circle cx="1427.0" cy="297.6" r="5.1"/><circle cx="1429.7" cy="297.4" r="5.1"/><circle cx="1432.5" cy="297.6" r="5.1"/><circle cx="1435.3" cy="297.8" r="5.1"/><circle cx="1438.0" cy="297.2" r="5.1"/><circle cx="1440.8" cy="298.2" r="5.1"/><circle cx="1443.6" cy="297.7" r="5.1"/><circle cx="1446.3" cy="297.6" r="5.1"/><circle cx="1449.1" cy="297.9" r="5.1"/><circle cx="1451.8" cy="298.6" r="5.1"/><circle cx="1454.6" cy="298.1" r="5.1"/><circle cx="1457.4" cy="298.7" r="5.1"/><circle cx="1460.1" cy="299.0" r="5.1"/><circle cx="1462.9" cy="298.5" r="5.1"/><circle cx="1465.7" cy="298.4" r="5.1"/><circle cx="1468.4" cy="298.5" r="5.1"/><circle cx="1471.2" cy="298.8" r="5.1"/><circle cx="1474.0" cy="298.9" r="5.1"/><circle cx="1476.7" cy="298.7" r="5.1"/><circle cx="1479.5" cy="298.8" r="5.1"/><circle cx="1482.3" cy="298.1" r="5.1"/><circle cx="1485.0" cy="298.2" r="5.1"/><circle cx="1487.8" cy="298.4" r="5.1"/><circle cx="1490.6" cy="299.0" r="5.1"/><circle cx="1493.3" cy="298.6" r="5.1"/><circle cx="1496.1" cy="299.1" r="5.1"/><circle cx="1498.9" cy="298.6" r="5.1"/><circle cx="1501.6" cy="298.8" r="5.1"/><circle cx="1504.4" cy="299.3" r="5.1"/><circle cx="1507.2" cy="299.9" r="5.1"/><circle cx="1509.9" cy="300.1" r="5.1"/><circle cx="1512.7" cy="300.3" r="5.1"/><circle cx="1515.5" cy="300.0" r="5.1"/><circle cx="1518.2" cy="300.4" r="5.1"/><circle cx="1521.0" cy="300.6" r="5.1"/><circle cx="1523.8" cy="300.9" r="5.1"/><circle cx="1526.5" cy="300.7" r="5.1"/><circle cx="1529.3" cy="301.9" r="5.1"/><circle cx="1532.1" cy="301.4" r="5.1"/></g>
<g class="fb"><circle cx="813" cy="46.8" r="5.1"/><circle cx="816.1" cy="137.8" r="5.1"/><circle cx="818.8" cy="166.2" r="5.1"/></g>
</g>
<path class="ar" d="M895.6,269.7 V310.3 H836"/>
<path d="M819.8,310.3 L840.9,299.7 L834.8,310.3 L840.9,320.9 Z" fill="#000"/>
<path class="ar" d="M1471.4,93.3 V134.3 H1532"/>
<path d="M1548.3,134.3 L1527.1,123.7 L1533.2,134.3 L1527.1,144.9 Z" fill="#000"/>
<rect class="frb" x="810.5" y="22.0" width="750.7" height="464.1"/>
<path class="tkb" d="M812.9,486.1 v-9 M882.0,486.1 v-4.3 M951.2,486.1 v-9 M1020.3,486.1 v-4.3 M1089.5,486.1 v-9 M1158.7,486.1 v-4.3 M1227.8,486.1 v-9 M1297.0,486.1 v-4.3 M1366.1,486.1 v-9 M1435.2,486.1 v-4.3 M1504.4,486.1 v-9 M810.5,428.1 h4.3 M810.5,370.1 h9 M810.5,312.1 h4.3 M810.5,254.1 h9 M810.5,196.0 h4.3 M810.5,138.0 h9 M810.5,80.0 h4.3 M1561.2,401.7 h-9 M1561.2,317.3 h-9 M1561.2,233.0 h-9 M1561.2,148.6 h-9 M1561.2,64.2 h-9 "/>
<text class="tb" text-anchor="middle" x="812.9" y="520.8">0</text>
<text class="tb" text-anchor="middle" x="951.2" y="520.8">50</text>
<text class="tb" text-anchor="middle" x="1089.5" y="520.8">100</text>
<text class="tb" text-anchor="middle" x="1227.8" y="520.8">150</text>
<text class="tb" text-anchor="middle" x="1366.1" y="520.8">200</text>
<text class="tb" text-anchor="middle" x="1504.4" y="520.8">250</text>
<text class="tb" text-anchor="end" x="801" y="495.9">0</text>
<text class="tb" text-anchor="end" x="801" y="379.9">300</text>
<text class="tb" text-anchor="end" x="801" y="263.9">600</text>
<text class="tb" text-anchor="end" x="801" y="147.8">900</text>
<text class="tb" text-anchor="end" x="801" y="31.8">1200</text>
<text class="tb" x="1570.6" y="495.7">0</text>
<text class="tb" x="1570.6" y="411.3">20</text>
<text class="tb" x="1570.6" y="326.9">40</text>
<text class="tb" x="1570.6" y="242.6">60</text>
<text class="tb" x="1570.6" y="158.2">80</text>
<text class="tb" x="1570.6" y="73.8">100</text>
<text class="tb" text-anchor="middle" transform="translate(1194.9,564.1) scale(0.992,1)">Cycle number</text>
<text class="tb" text-anchor="middle" transform="translate(1643.8,254.2) rotate(-90) scale(0.979,1)">Coulombic efficiency (%)</text>
<text class="tb" text-anchor="middle" transform="translate(724.0,248.9) rotate(-90) scale(0.992,1)">Capacity (mAh g<tspan font-size="22" dy="9.6">s</tspan><tspan font-size="22" dy="-24.4">-1</tspan><tspan dy="14.8">)</tspan></text>
</g>
</svg>
</body>
</html>
